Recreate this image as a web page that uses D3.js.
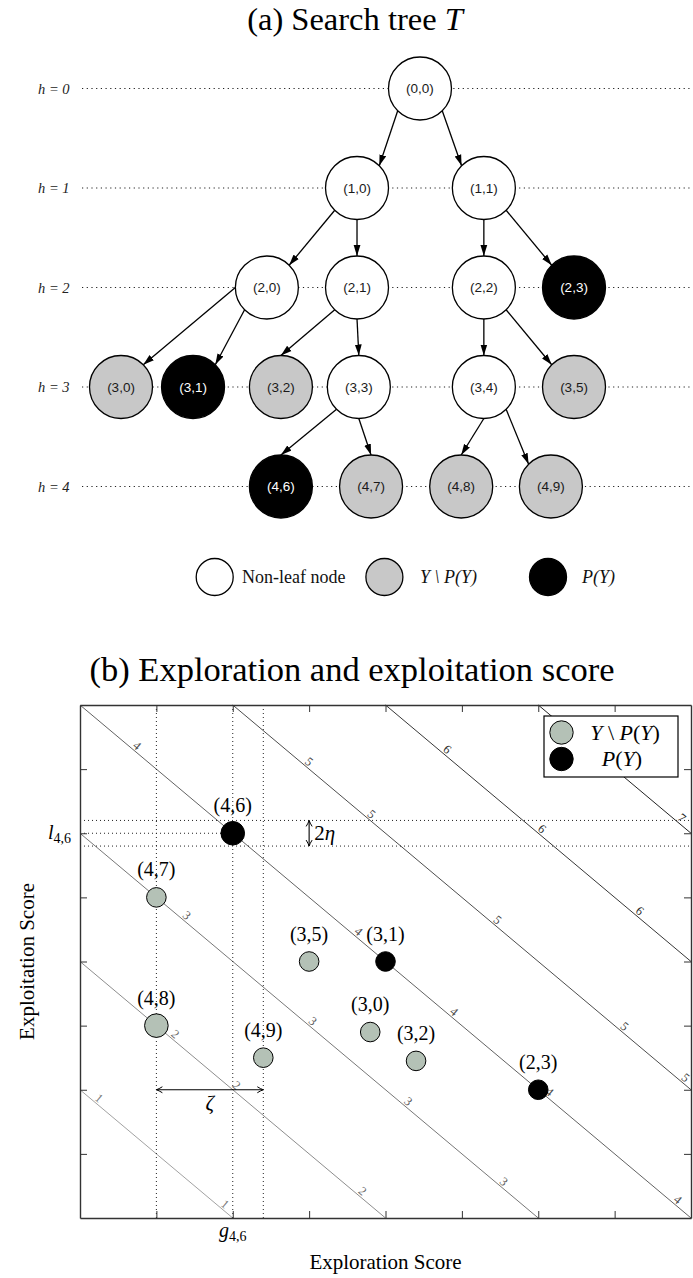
<!DOCTYPE html>
<html>
<head>
<meta charset="utf-8">
<script src="https://cdn.jsdelivr.net/npm/d3@7"></script>
<style>
  body { margin: 0; background: #fff; }
  svg text { font-family: "Liberation Serif", "DejaVu Serif", serif; }
</style>
</head>
<body>
<svg id="fig" width="693" height="1278"></svg>
<script>
// ---------- (a) search tree ----------
const nodeNames = ["(0,0)", "(1,0)", "(1,1)", "(2,0)", "(2,1)", "(2,2)", "(2,3)",
                   "(3,0)", "(3,1)", "(3,2)", "(3,3)", "(3,4)", "(3,5)",
                   "(4,6)", "(4,7)", "(4,8)", "(4,9)"];
const nodeDepth = [0, 1, 1, 2, 2, 2, 2, 3, 3, 3, 3, 3, 3, 4, 4, 4, 4];
// horizontal slot of each node in the tree layout
const nodeSlot = [6.60, 5.21, 8.01, 3.22, 5.21, 8.01, 10.0,
                  0.0, 1.59, 3.53, 5.25, 8.01, 10.0,
                  3.53, 5.52, 7.51, 9.49];
// inner = non-leaf node, Y = leaf in Y \ P(Y), P = leaf in P(Y)
const nodeKind = ["inner", "inner", "inner", "inner", "inner", "inner", "P",
                  "Y", "P", "Y", "inner", "inner", "Y",
                  "P", "Y", "Y", "Y"];
const treeDepths = [0, 1, 2, 3, 4];
// parent, child, side of the parent the edge leaves, side of the child it enters
const treeEdges = [
  ["(0,0)", "(1,0)", "bl", "tr"], ["(0,0)", "(1,1)", "br", "tl"],
  ["(1,0)", "(2,0)", "bl", "tr"], ["(1,0)", "(2,1)", "b", "t"],
  ["(1,1)", "(2,2)", "b", "t"],   ["(1,1)", "(2,3)", "br", "tl"],
  ["(2,0)", "(3,0)", "l", "tr"],  ["(2,0)", "(3,1)", "bl", "tr"],
  ["(2,1)", "(3,2)", "bl", "t"],  ["(2,1)", "(3,3)", "b", "t"],
  ["(2,2)", "(3,4)", "b", "t"],   ["(2,2)", "(3,5)", "br", "tl"],
  ["(3,3)", "(4,6)", "bl", "t"],  ["(3,3)", "(4,7)", "b", "t"],
  ["(3,4)", "(4,8)", "b", "t"],   ["(3,4)", "(4,9)", "br", "tl"]
];
const treeLegendKinds = ["inner", "Y", "P"];
const treeLegendTexts = ["Non-leaf node", "Y \\ P(Y)", "P(Y)"];

// ---------- (b) exploration / exploitation scores ----------
const leafNames    = ["(4,6)", "(4,7)", "(4,8)", "(4,9)", "(3,5)", "(3,1)", "(3,0)", "(3,2)", "(2,3)"];
const exploration  = [2.0, 1.0, 1.0, 2.4, 3.0, 4.0, 3.8, 4.4, 6.0];
const exploitation = [6.0, 5.0, 3.0, 2.5, 4.0, 4.0, 2.9, 2.45, 2.0];
const inPareto     = [true, false, false, false, false, true, false, false, true];
const contourLevels = [1, 2, 3, 4, 5, 6, 7];
// exploration value at which each level carries a label
const contourLabelAt = [
  [0.2, 1.85],
  [1.2, 2.0, 3.65],
  [1.35, 3.0, 4.25, 5.5],
  [0.7, 3.6, 4.85, 6.1, 7.78],
  [2.95, 3.77, 5.42, 7.08, 7.88],
  [4.76, 6.0, 7.28],
  [7.83]
];
const axisTicks = [1, 2, 3, 4, 5, 6, 7];
const eta = 0.2;

const svg = d3.select("#fig");

// ===================== search tree =====================
const treeX = d3.scaleLinear().domain([0, 10]).range([121, 574]);
const treeY = d3.scaleLinear().domain([0, 4]).range([88.5, 486.5]);
const nodeR = 31.5;
const kindFill = { inner: "#ffffff", Y: "#c8c8c8", P: "#000000" };
const kindText = { inner: "#1a1a1a", Y: "#1a1a1a", P: "#ffffff" };

const nodes = nodeNames.map((name, i) => ({
  name, depth: nodeDepth[i], slot: nodeSlot[i], kind: nodeKind[i],
  cx: treeX(nodeSlot[i]), cy: treeY(nodeDepth[i])
}));
const byName = new Map(nodes.map(n => [n.name, n]));

svg.append("text")
  .attr("x", 355).attr("y", 30)
  .attr("text-anchor", "middle")
  .attr("font-size", 32.5)
  .call(t => {
    t.append("tspan").text("(a) Search tree ");
    t.append("tspan").attr("font-style", "italic").text("T");
  });

// depth guides
const tree = svg.append("g");
tree.selectAll("line.level").data(treeDepths).join("line")
  .attr("class", "level")
  .attr("x1", 82).attr("x2", 693)
  .attr("y1", d => treeY(d)).attr("y2", d => treeY(d))
  .attr("stroke", "#222").attr("stroke-width", 1.2)
  .attr("stroke-dasharray", "1.2 3.5");
tree.selectAll("text.level").data(treeDepths).join("text")
  .attr("class", "level")
  .attr("x", 38).attr("y", d => treeY(d) + 5)
  .attr("font-size", 14.5).attr("font-style", "italic")
  .attr("fill", "#222")
  .text(d => `h = ${d}`);

// arrowhead
const defs = svg.append("defs");
defs.append("marker")
  .attr("id", "tip").attr("viewBox", "0 0 11 8")
  .attr("refX", 11).attr("refY", 4)
  .attr("markerWidth", 11).attr("markerHeight", 8)
  .attr("markerUnits", "userSpaceOnUse")
  .attr("orient", "auto")
  .append("path").attr("d", "M0,0.6 L11,4 L0,7.4 Z").attr("fill", "#000");

const sideAngle = { t: -90, b: 90, l: 180, r: 0, tl: -135, tr: -45, bl: 135, br: 45 };
const port = (n, side) => {
  const a = sideAngle[side] * Math.PI / 180;
  return [n.cx + nodeR * Math.cos(a), n.cy + nodeR * Math.sin(a)];
};
tree.selectAll("line.edge").data(treeEdges).join("line")
  .attr("class", "edge")
  .each(function (e) {
    const p = port(byName.get(e[0]), e[2]);
    const q = port(byName.get(e[1]), e[3]);
    d3.select(this).attr("x1", p[0]).attr("y1", p[1]).attr("x2", q[0]).attr("y2", q[1]);
  })
  .attr("stroke", "#000").attr("stroke-width", 1.3)
  .attr("marker-end", "url(#tip)");

const nodeG = tree.selectAll("g.node").data(nodes).join("g")
  .attr("class", "node")
  .attr("transform", d => `translate(${d.cx},${d.cy})`);
nodeG.append("circle").attr("r", nodeR)
  .attr("fill", d => kindFill[d.kind])
  .attr("stroke", "#000").attr("stroke-width", 1.3);
nodeG.append("text")
  .attr("text-anchor", "middle").attr("dy", "0.36em")
  .style("font-family", "'Liberation Sans', Arial, sans-serif")
  .attr("font-size", 13.5)
  .attr("fill", d => kindText[d.kind])
  .text(d => d.name);

// tree legend
const legCircleX = [214.7, 384.4, 548];
const legTextX = [242, 420, 582];
const legY = 577;
const legA = svg.append("g");
legA.selectAll("circle").data(treeLegendKinds).join("circle")
  .attr("cx", (d, i) => legCircleX[i]).attr("cy", legY).attr("r", 18.5)
  .attr("fill", d => kindFill[d]).attr("stroke", "#000").attr("stroke-width", 1.3);
legA.selectAll("text").data(treeLegendTexts).join("text")
  .attr("x", (d, i) => legTextX[i]).attr("y", legY + 6)
  .attr("font-size", 18)
  .attr("font-style", (d, i) => i === 0 ? "normal" : "italic")
  .attr("fill", "#111")
  .text(d => d);

// ===================== score plot =====================
const x = d3.scaleLinear().domain([0, 8]).range([80, 691]);
const y = d3.scaleLinear().domain([0, 8]).range([1218, 705]);
const lineGrey = d3.scaleLinear().domain([1, 7]).range(["#a2a2a2", "#222222"]);
const labelGrey = d3.scaleLinear().domain([1, 7]).range(["#7a7a7a", "#1c1c1c"]);

svg.append("text")
  .attr("x", 352).attr("y", 681)
  .attr("text-anchor", "middle")
  .attr("font-size", 34.5)
  .text("(b) Exploration and exploitation score");

const plot = svg.append("g");

// iso-score lines: (exploration + exploitation) / 2 = level
const ends = c => {
  const s = 2 * c;
  return [[Math.max(0, s - 8), Math.min(8, s)], [Math.min(8, s), Math.max(0, s - 8)]];
};
plot.selectAll("line.iso").data(contourLevels).join("line")
  .attr("class", "iso")
  .attr("x1", c => x(ends(c)[0][0])).attr("y1", c => y(ends(c)[0][1]))
  .attr("x2", c => x(ends(c)[1][0])).attr("y2", c => y(ends(c)[1][1]))
  .attr("stroke", c => lineGrey(c)).attr("stroke-width", 1);

const dx = x(1) - x(0), dy = y(-1) - y(0);
const len = Math.hypot(dx, dy);
const angle = Math.atan2(dy, dx) * 180 / Math.PI;
const nx = dy / len, ny = -dx / len;
const isoLabels = contourLevels.flatMap((c, i) =>
  contourLabelAt[i].map(xv => ({ c, xv })));
plot.selectAll("text.iso").data(isoLabels).join("text")
  .attr("class", "iso")
  .attr("transform", d => {
    const px = x(d.xv) + 6 * nx, py = y(2 * d.c - d.xv) + 6 * ny;
    return `translate(${px},${py}) rotate(${angle})`;
  })
  .attr("text-anchor", "middle").attr("dy", "0.35em")
  .attr("font-size", 12.5)
  .attr("fill", d => labelGrey(d.c))
  .text(d => d.c);

// guide lines around the selected leaf (4,6)
const iSel = leafNames.indexOf("(4,6)");
const iLeft = leafNames.indexOf("(4,8)");
const iRight = leafNames.indexOf("(4,9)");
const gx = exploration[iSel], gy = exploitation[iSel];
const dotted = g => g.attr("stroke", "#222").attr("stroke-width", 1)
  .attr("stroke-dasharray", "1 3");
const vGuides = [exploration[iLeft], gx, exploration[iRight]];
plot.selectAll("line.vg").data(vGuides).join("line").attr("class", "vg")
  .attr("x1", d => x(d)).attr("x2", d => x(d))
  .attr("y1", y(0)).attr("y2", y(8)).call(dotted);
const hGuides = [gy + eta, gy - eta];
plot.selectAll("line.hg").data(hGuides).join("line").attr("class", "hg")
  .attr("x1", x(0)).attr("x2", x(8))
  .attr("y1", d => y(d)).attr("y2", d => y(d)).call(dotted);
plot.append("line")
  .attr("x1", x(0)).attr("x2", x(gx)).attr("y1", y(gy)).attr("y2", y(gy)).call(dotted);

// open arrowheads for the ζ and 2η spans
defs.append("marker")
  .attr("id", "open").attr("viewBox", "0 0 8 8")
  .attr("refX", 7.5).attr("refY", 4)
  .attr("markerWidth", 8).attr("markerHeight", 8)
  .attr("markerUnits", "userSpaceOnUse")
  .attr("orient", "auto-start-reverse")
  .append("path").attr("d", "M1.5,1 Q5,3.2 7.5,4 Q5,4.8 1.5,7")
  .attr("fill", "none").attr("stroke", "#000").attr("stroke-width", 1);

const zetaY = 2;
plot.append("line")
  .attr("x1", x(exploration[iLeft])).attr("x2", x(exploration[iRight]))
  .attr("y1", y(zetaY)).attr("y2", y(zetaY))
  .attr("stroke", "#000").attr("stroke-width", 1.1)
  .attr("marker-start", "url(#open)").attr("marker-end", "url(#open)");
plot.append("text")
  .attr("x", x((exploration[iLeft] + exploration[iRight]) / 2)).attr("y", y(zetaY) + 20)
  .attr("text-anchor", "middle").attr("font-size", 21).attr("font-style", "italic")
  .text("ζ");

const etaX = 3;
plot.append("line")
  .attr("x1", x(etaX)).attr("x2", x(etaX))
  .attr("y1", y(gy + eta)).attr("y2", y(gy - eta))
  .attr("stroke", "#000").attr("stroke-width", 1.1)
  .attr("marker-start", "url(#open)").attr("marker-end", "url(#open)");
plot.append("text")
  .attr("x", x(etaX) + 5).attr("y", y(gy) + 7)
  .attr("font-size", 21)
  .call(t => {
    t.append("tspan").text("2");
    t.append("tspan").attr("font-style", "italic").text("η");
  });

// leaves
const leaves = leafNames.map((name, i) => ({
  name, ex: exploration[i], ey: exploitation[i], p: inPareto[i]
}));
const emphasised = new Set(["(4,6)", "(4,8)"]);
plot.selectAll("circle.leaf").data(leaves).join("circle")
  .attr("class", "leaf")
  .attr("cx", d => x(d.ex)).attr("cy", d => y(d.ey))
  .attr("r", d => emphasised.has(d.name) ? 11.8 : 9.8)
  .attr("fill", d => d.p ? "#000" : "#b4c1b6")
  .attr("stroke", "#000").attr("stroke-width", 1);
plot.selectAll("text.leaf").data(leaves).join("text")
  .attr("class", "leaf")
  .attr("x", d => x(d.ex)).attr("y", d => y(d.ey) - 21)
  .attr("text-anchor", "middle").attr("font-size", 20)
  .text(d => d.name);

// frame with inward ticks on all four sides
const tickStyle = g => {
  g.selectAll("text").remove();
  g.selectAll(".tick line").attr("stroke", "#333").attr("stroke-width", 1);
  g.select(".domain").attr("stroke", "#333").attr("stroke-width", 1.4);
};
svg.append("g").attr("transform", `translate(0,${y(0)})`)
  .call(d3.axisBottom(x).tickValues(axisTicks).tickSize(-7).tickSizeOuter(0)).call(tickStyle);
svg.append("g").attr("transform", `translate(0,${y(8)})`)
  .call(d3.axisTop(x).tickValues(axisTicks).tickSize(-7).tickSizeOuter(0)).call(tickStyle);
svg.append("g").attr("transform", `translate(${x(0)},0)`)
  .call(d3.axisLeft(y).tickValues(axisTicks).tickSize(-7).tickSizeOuter(0)).call(tickStyle);
svg.append("g").attr("transform", `translate(${x(8)},0)`)
  .call(d3.axisRight(y).tickValues(axisTicks).tickSize(-7).tickSizeOuter(0)).call(tickStyle);

// marked coordinates of (4,6)
svg.append("text")
  .attr("x", x(0) - 9).attr("y", y(gy) + 6)
  .attr("text-anchor", "end").attr("font-size", 20).attr("font-style", "italic")
  .call(t => {
    t.append("tspan").text("l");
    t.append("tspan").attr("font-style", "normal").attr("font-size", 14).attr("dy", 4).text("4,6");
  });
svg.append("text")
  .attr("x", x(gx)).attr("y", y(0) + 19)
  .attr("text-anchor", "middle").attr("font-size", 20).attr("font-style", "italic")
  .call(t => {
    t.append("tspan").text("g");
    t.append("tspan").attr("font-style", "normal").attr("font-size", 14).attr("dy", 4).text("4,6");
  });

// axis titles
svg.append("text")
  .attr("x", (x(0) + x(8)) / 2).attr("y", 1269)
  .attr("text-anchor", "middle").attr("font-size", 21)
  .text("Exploration Score");
svg.append("text")
  .attr("transform", `translate(34,${(y(0) + y(8)) / 2}) rotate(-90)`)
  .attr("text-anchor", "middle").attr("font-size", 21)
  .text("Exploitation Score");

// legend
const legB = svg.append("g").attr("transform", `translate(${x(8) - 147},${y(8) + 11})`);
legB.append("rect").attr("width", 134).attr("height", 61)
  .attr("fill", "#fff").attr("stroke", "#000").attr("stroke-width", 1.2);
const legBKinds = [false, true];
legB.selectAll("circle").data(legBKinds).join("circle")
  .attr("cx", 17.5).attr("cy", (d, i) => 16.5 + i * 26.5).attr("r", 11.7)
  .attr("fill", d => d ? "#000" : "#b4c1b6").attr("stroke", "#000").attr("stroke-width", 1);
const mathLabel = (t, parts) => parts.forEach(([s, it]) =>
  t.append("tspan").attr("font-style", it ? "italic" : "normal").text(s));
legB.append("text").attr("x", 81).attr("y", 16.5 + 7)
  .attr("text-anchor", "middle").attr("font-size", 22)
  .call(t => mathLabel(t, [["Y", true], [" \\ ", false], ["P", true], ["(", false], ["Y", true], [")", false]]));
legB.append("text").attr("x", 78).attr("y", 43 + 7)
  .attr("text-anchor", "middle").attr("font-size", 22)
  .call(t => mathLabel(t, [["P", true], ["(", false], ["Y", true], [")", false]]));
</script>
</body>
</html>
